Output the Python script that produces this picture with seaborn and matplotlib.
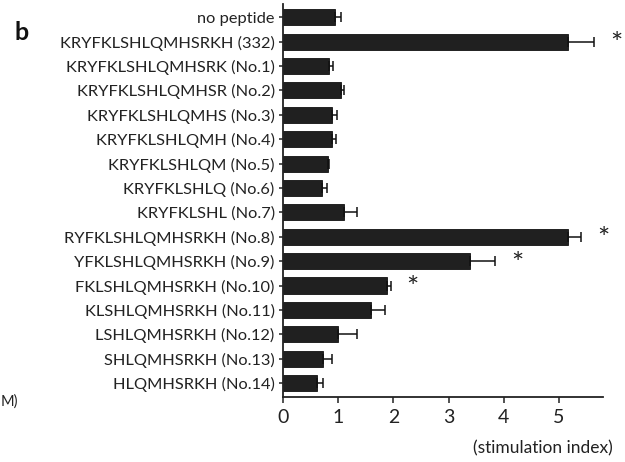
import numpy as np
import pandas as pd
import matplotlib
matplotlib.use("Agg")
import matplotlib.pyplot as plt
import seaborn as sns

sns.set_theme(style="ticks")
plt.rcParams["font.family"] = ["Lato", "DejaVu Sans"]

peptides = [
    "no peptide",
    "KRYFKLSHLQMHSRKH (332)",
    "KRYFKLSHLQMHSRK (No.1)",
    "KRYFKLSHLQMHSR (No.2)",
    "KRYFKLSHLQMHS (No.3)",
    "KRYFKLSHLQMH (No.4)",
    "KRYFKLSHLQM (No.5)",
    "KRYFKLSHLQ (No.6)",
    "KRYFKLSHL (No.7)",
    "RYFKLSHLQMHSRKH (No.8)",
    "YFKLSHLQMHSRKH (No.9)",
    "FKLSHLQMHSRKH (No.10)",
    "KLSHLQMHSRKH (No.11)",
    "LSHLQMHSRKH (No.12)",
    "SHLQMHSRKH (No.13)",
    "HLQMHSRKH (No.14)",
]
stim_index = [0.95, 5.17, 0.84, 1.05, 0.88, 0.88, 0.81, 0.71, 1.10,
              5.17, 3.39, 1.88, 1.59, 0.99, 0.72, 0.62]
sem = [0.10, 0.47, 0.06, 0.06, 0.10, 0.08, 0.02, 0.08, 0.25,
       0.23, 0.46, 0.07, 0.25, 0.35, 0.17, 0.10]
significant = ["KRYFKLSHLQMHSRKH (332)", "RYFKLSHLQMHSRKH (No.8)",
               "YFKLSHLQMHSRKH (No.9)", "FKLSHLQMHSRKH (No.10)"]

df = pd.DataFrame({"peptide": peptides, "si": stim_index, "sem": sem})

fig = plt.figure(figsize=(6.25, 4.62), dpi=100)
ax = fig.add_axes([0.4528, 0.1407, 0.512, 0.850])

sns.barplot(data=df, x="si", y="peptide", orient="h", color="#202020",
            saturation=1, width=0.66, errorbar=None, ax=ax)
for p in ax.patches:
    p.set_edgecolor("#111111")
    p.set_linewidth(0.6)

ypos = np.arange(len(peptides))
ax.errorbar(df["si"], ypos, xerr=[np.zeros(len(sem)), df["sem"]],
            fmt="none", ecolor="#111111", elinewidth=1.1, capsize=3.5,
            capthick=1.1)

for pep in significant:
    i = peptides.index(pep)
    ax.text(stim_index[i] + sem[i] + 0.4, i + 0.15, "*", ha="center",
            va="center", fontsize=21, color="#222222")

ax.set_xlim(0, 5.8)
ax.set_ylim(len(peptides) - 0.43, -0.53)
ax.set_xticks([0, 1, 2, 3, 4, 5])
ax.set_ylabel("")
ax.set_xlabel("")
ax.tick_params(axis="x", labelsize=14, length=4, width=1.1, color="#222222",
               pad=5, labelcolor="#222222")
ax.tick_params(axis="y", labelsize=11.8, length=3, width=1.1, color="#222222",
               pad=3, labelcolor="#222222")
for s in ["top", "right"]:
    ax.spines[s].set_visible(False)
for s in ["left", "bottom"]:
    ax.spines[s].set_linewidth(1.3)
    ax.spines[s].set_color("#222222")

fig.text(613 / 625, 1 - 448 / 462, "(stimulation index)", ha="right",
         va="center", fontsize=12.5, color="#222222")
fig.text(22 / 625, 1 - 33 / 462, "b", ha="center", va="center",
         fontsize=18, fontweight="bold", color="#111111")
fig.text(1 / 625, 1 - 402 / 462, "M)", ha="left", va="center",
         fontsize=10.5, color="#222222")

fig.savefig("out.png", dpi=100)
